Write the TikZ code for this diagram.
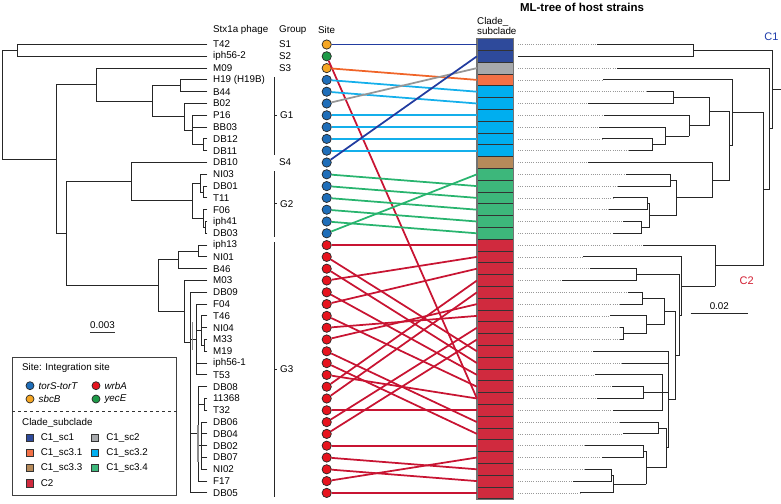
\documentclass[tikz,border=0pt]{standalone}
\usepackage{fontspec}
\setmainfont{Liberation Sans}
\definecolor{sbl}{RGB}{31,110,185}
\definecolor{sor}{RGB}{245,166,35}
\definecolor{sred}{RGB}{230,20,30}
\definecolor{sgr}{RGB}{30,154,72}
\definecolor{csa}{RGB}{46,74,155}
\definecolor{csb}{RGB}{167,169,172}
\definecolor{csc}{RGB}{242,112,70}
\definecolor{csd}{RGB}{0,174,239}
\definecolor{cse}{RGB}{182,138,90}
\definecolor{csf}{RGB}{61,183,123}
\definecolor{ctwo}{RGB}{208,42,62}
\definecolor{la}{RGB}{34,60,160}
\definecolor{lb}{RGB}{150,150,150}
\definecolor{lc}{RGB}{240,100,40}
\definecolor{ld}{RGB}{20,175,235}
\definecolor{lf}{RGB}{40,180,110}
\definecolor{lr}{RGB}{200,20,50}
\definecolor{cone}{RGB}{30,60,170}
\definecolor{clabtwo}{RGB}{210,30,50}
\tikzset{
 tl/.style={line width=0.85pt, draw=black!85, line cap=rect},
 dl/.style={line width=0.6pt, draw=black!40, dash pattern=on 0.7pt off 1.5pt},
 lab/.style={anchor=west, inner sep=0, font=\fontsize{9.8}{11}\selectfont},
 site/.style={circle, draw=black!85, line width=0.7pt, minimum size=9.3pt, inner sep=0},
 cbox/.style={rectangle, draw=black!80, line width=0.7pt, minimum width=36pt, minimum height=11.8pt, inner sep=0},
 link/.style={line width=1.75pt},
 lsq/.style={rectangle, draw=black!80, line width=0.6pt, minimum size=7.3pt, inner sep=0},
}
\newcommand\rlf[3]{\draw[dl] (518,#1) -- (#2,#1); \draw[tl] (#2,#1) -- (#3,#1);}
\newcommand\rnd[5]{\draw[tl] (#1,#2) -- (#1,#3); \draw[tl] (#1,#4) -- (#5,#4);}
\newcommand\lnd[3]{\draw[tl] (#1,#2) -- (#1,#3);}
\newcommand\lhz[3]{\draw[tl] (#1,#3) -- (#2,#3);}
\begin{document}
\begin{tikzpicture}[x=1pt,y=-1pt]
\useasboundingbox (0,0) rectangle (781,503);
% headers
\node[lab] (h1) at (213,30) {Stx1a phage};
\node[lab] (h2) at (279,30) {Group};
\node[lab] (h3) at (318,30) {Site};
\node[lab, font=\bfseries\fontsize{11.5}{13}\selectfont, anchor=center] (h4) at (582,7) {ML-tree of host strains};
\node[lab, align=left, anchor=west, font=\fontsize{9.8}{10}\selectfont] (h5) at (477,25.7) {Clade\_\\subclade};
% leaf labels
\foreach \i/\t in {1/T42,2/iph56-2,3/M09,4/H19 (H19B),5/B44,6/B02,7/P16,8/BB03,9/DB12,10/DB11,11/DB10,12/NI03,13/DB01,14/T11,15/F06,16/iph41,17/DB03,18/iph13,19/NI01,20/B46,21/M03,22/DB09,23/F04,24/T46,25/NI04,26/M33,27/M19,28/iph56-1,29/T53,30/DB08,31/11368,32/T32,33/DB06,34/DB04,35/DB02,36/DB07,37/NI02,38/F17,39/DB05}
  {\node[lab] (l\i) at (213,{44.5+(\i-1)*11.8}) {\t};}
% groups
\foreach \i/\t in {1/S1,2/S2,3/S3,11/S4}
  {\node[lab] (g\i) at (279,{44.5+(\i-1)*11.8}) {\t};}
\draw[tl, line cap=butt] (274,77) -- (274,155) (274,115.3) -- (277,115.3);
\node[lab] (gG1) at (280,115.3) {G1};
\draw[tl, line cap=butt] (274,171) -- (274,237) (274,203.8) -- (277,203.8);
\node[lab] (gG2) at (280,203.8) {G2};
\draw[tl, line cap=butt] (274,242) -- (274,497) (274,369) -- (277,369);
\node[lab] (gG3) at (280,369) {G3};
% left tree
\lnd{2}{50.4}{159.2}
\lhz{2}{17.3}{50.4} \lhz{2}{56.7}{159.2}
\lnd{17.3}{44.5}{56.3} \lhz{17.3}{207}{44.5} \lhz{17.3}{207}{56.3}
\lnd{56.7}{84.7}{233.7} \lhz{56.7}{96.7}{84.7} \lhz{56.7}{66.7}{233.7}
\lnd{96.7}{68.1}{101.3} \lhz{96.7}{207}{68.1} \lhz{96.7}{152.3}{101.3}
\lnd{152.3}{85.8}{116.8} \lhz{152.3}{180}{85.8} \lhz{152.3}{184.3}{116.8}
\lnd{180}{79.9}{91.7} \lhz{180}{207}{79.9} \lhz{180}{207}{91.7}
\lnd{184.3}{103.5}{130.05} \lhz{184.3}{207}{103.5} \lhz{184.3}{192.5}{130.05}
\lnd{192.5}{115.3}{144.8} \lhz{192.5}{207}{115.3} \lhz{192.5}{207}{127.1} \lhz{192.5}{203}{144.8}
\lnd{203}{138.9}{150.7} \lhz{203}{207}{138.9} \lhz{203}{207}{150.7}
\lnd{66.7}{181.7}{285.7} \lhz{66.7}{131.7}{181.7} \lhz{66.7}{158.3}{285.7}
\lnd{131.7}{162.5}{200.85} \lhz{131.7}{207}{162.5} \lhz{131.7}{192.7}{200.85}
\lnd{192.7}{183.15}{218.55} \lhz{192.7}{200.7}{183.15} \lhz{192.7}{203}{218.55}
\lnd{200.7}{174.3}{192} \lhz{200.7}{207}{174.3} \lhz{200.7}{203.3}{192}
\lnd{203.3}{186.1}{197.9} \lhz{203.3}{207}{186.1} \lhz{203.3}{207}{197.9}
\lnd{203}{209.7}{227.4} \lhz{203}{207}{209.7} \lhz{203}{205}{227.4}
\lnd{205}{221.5}{233.3} \lhz{205}{207}{221.5} \lhz{205}{207}{233.3}
\lnd{158.3}{259.85}{311.5} \lhz{158.3}{178.5}{259.85} \lhz{158.3}{184}{311.5}
\lnd{178.5}{251}{268.7} \lhz{178.5}{198.3}{251} \lhz{178.5}{207}{268.7}
\lnd{198.3}{245.1}{256.9} \lhz{198.3}{207}{245.1} \lhz{198.3}{207}{256.9}
\lnd{184}{280.5}{342.5} \lhz{184}{207}{280.5} \lhz{184}{190}{342.5}
\lnd{190}{292.3}{492.9} \lhz{190}{207}{292.3} \lhz{190}{196.5}{339.5} \lhz{190}{198}{433.9} \lhz{190}{207}{492.9}
\lnd{196.5}{304.1}{374.9} \lhz{196.5}{207}{304.1} \lhz{196.5}{201.5}{330.65} \lhz{196.5}{207}{363.1} \lhz{196.5}{207}{374.9}
\lnd{201.5}{315.9}{345.4} \lhz{201.5}{207}{315.9} \lhz{201.5}{207}{327.7} \lhz{201.5}{204}{345.4}
\lnd{204}{339.5}{351.3} \lhz{204}{207}{339.5} \lhz{204}{207}{351.3}
\lnd{198}{386.7}{481.1} \lhz{198}{207}{386.7} \lhz{198}{204}{404.4} \lhz{198}{201.5}{445.7} \lhz{198}{207}{481.1}
\lnd{204}{398.5}{410.3} \lhz{204}{207}{398.5} \lhz{204}{207}{410.3}
\lnd{201.5}{422.1}{469.3}
\foreach \yy in {422.1,433.9,445.7,457.5,469.3} {\lhz{201.5}{207}{\yy}}
\draw[line width=1.6pt, draw=black!45] (192.3,322) -- (192.3,350) (197.8,425) -- (197.8,462);
% left scale bar
\node[lab, anchor=center] (sc1) at (102.5,325) {0.003};
\draw[line width=0.9pt, draw=black!80] (90,332.5) -- (115,332.5);
% clade boxes
\foreach \i/\col in {1/csa,2/csa,3/csb,4/csc,5/csd,6/csd,7/csd,8/csd,9/csd,10/csd,11/cse,12/csf,13/csf,14/csf,15/csf,16/csf,17/csf}
  {\node[cbox, fill=\col] (b\i) at (495.3,{44.5+(\i-1)*11.8}) {};}
\foreach \i in {18,...,39}
  {\node[cbox, fill=ctwo] (b\i) at (495.3,{44.5+(\i-1)*11.8}) {};}
\draw[line width=1.2pt, draw=black!55] (b1.north west) rectangle (b39.south east);
% sites
\foreach \i/\col in {1/sor,2/sgr,3/sor}
  {\node[site, fill=\col] (s\i) at (326.7,{44.5+(\i-1)*11.8}) {};}
\foreach \i in {4,...,17}
  {\node[site, fill=sbl] (s\i) at (326.7,{44.5+(\i-1)*11.8}) {};}
\foreach \i in {18,...,39}
  {\node[site, fill=sred] (s\i) at (326.7,{44.5+(\i-1)*11.8}) {};}
% links
\foreach \a/\b/\col in {1/1/la,2/31/lr,3/4/lc,4/5/ld,5/6/ld,6/3/lb,7/7/ld,8/8/ld,9/9/ld,10/10/ld,11/2/la,12/13/lf,13/14/lf,14/15/lf,15/16/lf,16/17/lf,17/12/lf,
  18/18/lr,19/27/lr,20/28/lr,21/19/lr,22/29/lr,23/20/lr,24/30/lr,25/24/lr,26/23/lr,27/33/lr,28/34/lr,29/31/lr,30/21/lr,31/22/lr,32/32/lr,33/25/lr,34/26/lr,35/35/lr,36/37/lr,37/38/lr,38/36/lr,39/39/lr}
  {\draw[link, draw=\col] (s\a) -- (b\b.west);}
% right tree
\draw[tl] (518,56.3) -- (693,56.3);
\rlf{44.5}{597}{693}
\rnd{693}{44.5}{56.3}{50.4}{772}
\rlf{68.1}{617}{769.5}
\rlf{79.9}{603}{732}
\rlf{91.7}{647}{673}
\rlf{103.5}{588}{673}
\rnd{673}{91.7}{103.5}{97.6}{709}
\rlf{115.3}{604}{689}
\rlf{127.1}{599}{665}
\rlf{138.9}{602}{652}
\rlf{150.7}{629}{652}
\rnd{652}{138.9}{150.7}{144.8}{665}
\rnd{665}{127.1}{144.8}{135.95}{689}
\rnd{689}{115.3}{135.95}{125.6}{709}
\rnd{709}{97.6}{125.6}{111.6}{729.5}
\rlf{162.5}{588}{712}
\rlf{174.3}{626}{670}
\rlf{186.1}{618}{670}
\rnd{670}{174.3}{186.1}{180.2}{676}
\rlf{197.9}{613}{647}
\rlf{209.7}{609}{647}
\rnd{647}{197.9}{209.7}{203.8}{649.5}
\rlf{221.5}{623}{641.7}
\rlf{233.3}{613}{641.7}
\rnd{641.7}{221.5}{233.3}{227.4}{649.5}
\rnd{649.5}{203.8}{227.4}{215.6}{676}
\rnd{676}{180.2}{215.6}{197.9}{712}
\rnd{712}{162.5}{197.9}{180.2}{729.5}
\rnd{729.5}{111.6}{180.2}{145.9}{732}
\rnd{732}{79.9}{145.9}{112.9}{763.3}
\rlf{245.1}{643}{715}
\rlf{256.9}{583}{681.7}
\rlf{268.7}{590}{636.7}
\rlf{280.5}{562}{636.7}
\rnd{636.7}{268.7}{280.5}{274.6}{679}
\rlf{292.3}{628}{642.7}
\rlf{304.1}{620}{642.7}
\rnd{642.7}{292.3}{304.1}{298.2}{664.3}
\rlf{315.9}{610}{646}
\rlf{327.7}{620}{623}
\rlf{339.5}{620}{623}
\rnd{623}{327.7}{339.5}{333.6}{646}
\rnd{646}{315.9}{333.6}{324.75}{664.3}
\rnd{664.3}{298.2}{324.75}{311.5}{675}
\rlf{351.3}{593}{668.3}
\rlf{363.1}{622}{668.3}
\rlf{374.9}{595}{662.5}
\rlf{386.7}{612}{643.3}
\rlf{398.5}{597}{643.3}
\rnd{643.3}{386.7}{398.5}{392.6}{662.5}
\rlf{410.3}{613}{662.5}
\rnd{662.5}{374.9}{410.3}{392.6}{668.3}
\rlf{422.1}{620}{658}
\rlf{433.9}{623}{658}
\rnd{658}{422.1}{433.9}{428}{666.7}
\rlf{445.7}{585}{643.3}
\rlf{457.5}{602}{643.3}
\rnd{643.3}{445.7}{457.5}{451.6}{646}
\rlf{469.3}{585}{611.7}
\rlf{481.1}{573}{611.7}
\rnd{611.7}{469.3}{481.1}{475.2}{613.3}
\rlf{492.9}{580}{613.3}
\rnd{613.3}{475.2}{492.9}{484.05}{646}
\rnd{646}{451.6}{484.05}{467.8}{666.7}
\rnd{666.7}{428}{467.8}{447.9}{668.3}
\rnd{668.3}{351.3}{447.9}{399.6}{675}
\rnd{675}{311.5}{399.6}{355.55}{679}
\rnd{679}{274.6}{355.55}{315.1}{681.7}
\rnd{681.7}{256.9}{315.1}{286}{715}
\rnd{715}{245.1}{286}{265.55}{763.3}
\rnd{763.3}{112.9}{265.55}{189.2}{769.5}
\rnd{769.5}{68.1}{189.2}{128.65}{772}
\rnd{772}{50.4}{128.65}{89.5}{781}
\node[lab, anchor=center, text=cone, font=\fontsize{11}{13}\selectfont] (c1l) at (771.5,36.7) {C1};
\node[lab, anchor=center, text=clabtwo, font=\fontsize{11}{13}\selectfont] (c2l) at (746.7,280.7) {C2};
\node[lab, anchor=center] (sc2) at (719.3,305.7) {0.02};
\draw[line width=0.9pt, draw=black!85] (690.7,313.3) -- (748.3,313.3);
% legend
\node[draw=black!75, line width=0.9pt, fill=white, minimum width=163.4pt, minimum height=138.3pt, inner sep=0, anchor=north west] (leg) at (12.3,356.7) {};
\node[lab] (lt1) at (22,368.3) {Site: Integration site};
\node[site, minimum size=8pt, fill=sbl] (lc1) at (30,385.7) {};
\node[lab] (lx1) at (38.5,385.7) {\itshape torS-torT};
\node[site, minimum size=8pt, fill=sred] (lc2) at (96,385.7) {};
\node[lab] (lx2) at (104.3,385.7) {\itshape wrbA};
\node[site, minimum size=8pt, fill=sor] (lc3) at (30,399) {};
\node[lab] (lx3) at (38.5,399) {\itshape sbcB};
\node[site, minimum size=8pt, fill=sgr] (lc4) at (96,399) {};
\node[lab] (lx4) at (104.3,399) {\itshape yecE};
\draw[dashed, line width=0.8pt, draw=black!80] (leg.west |- 0,411.7) -- (leg.east |- 0,411.7);
\node[lab] (lt2) at (22,422.7) {Clade\_subclade};
\foreach \n/\xx/\yy/\col/\t in {1/29.5/437.7/csa/C1\_sc1, 2/95/437.7/csb/C1\_sc2, 3/29.5/452.9/csc/C1\_sc3.1, 4/95/452.9/csd/C1\_sc3.2, 5/29.5/468.1/cse/C1\_sc3.3, 6/95/468.1/csf/C1\_sc3.4, 7/29.5/483.3/ctwo/C2}
  {\node[lsq, fill=\col] (q\n) at (\xx,\yy) {};
   \node[lab] (qt\n) at (\xx+11.2,\yy) {\t};}
\end{tikzpicture}
\end{document}
